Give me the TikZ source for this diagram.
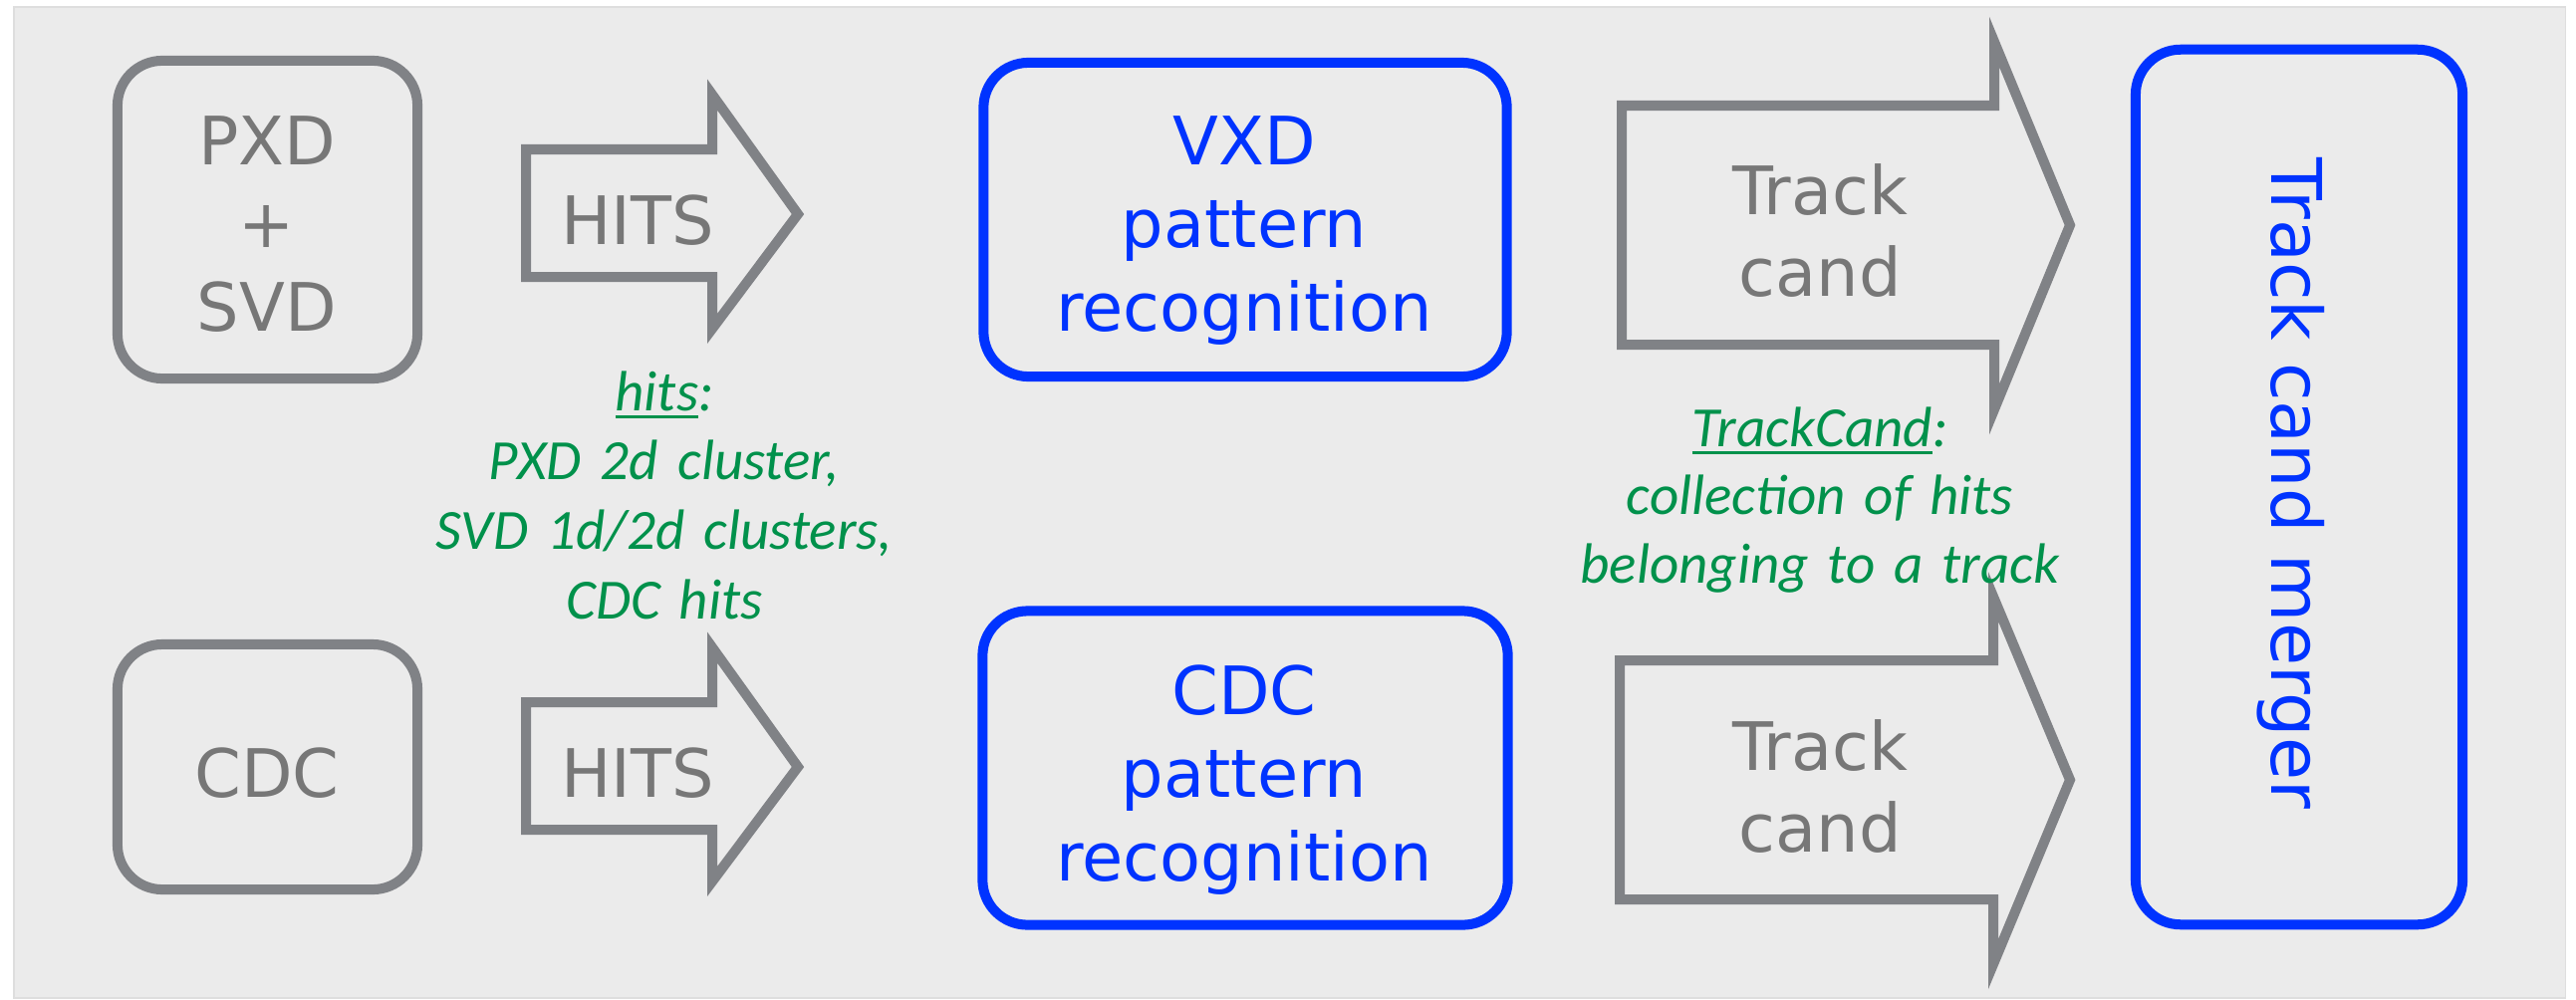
\documentclass[tikz,border=0pt]{standalone}
\usepackage{fontspec}
\setmainfont{DejaVu Sans}
\newfontfamily\carlito{Carlito}
\definecolor{bggray}{RGB}{235,235,235}
\definecolor{bgedge}{RGB}{222,222,222}
\definecolor{strokegray}{RGB}{128,130,134}
\definecolor{textgray}{RGB}{119,119,119}
\definecolor{myblue}{RGB}{0,51,255}
\definecolor{mygreen}{RGB}{0,145,75}
\newcommand\greenul[1]{\leavevmode\setbox0\hbox{#1}\rlap{\rule[-2.3pt]{\wd0}{1pt}}\box0}
\tikzset{
  box/.style={draw, rounded corners=0.45cm, line width=0.1cm, inner sep=0pt, fill=none},
  graybox/.style={box, draw=strokegray},
  bluebox/.style={box, draw=myblue},
  blockarrow/.style={draw=strokegray, line width=0.1cm, line join=miter},
  bigtext/.style={font=\fontsize{19.06}{23.76}\selectfont, text width=6cm, align=center, anchor=base, inner sep=0pt},
  graytext/.style={bigtext, text=textgray},
  bluetext/.style={bigtext, text=myblue},
  tracktext/.style={graytext, font=\fontsize{19.06}{23.33}\selectfont},
  note/.style={font=\carlito\itshape\fontsize{16.22}{19.9}\selectfont, text=mygreen, text width=6cm, align=center, anchor=base, inner sep=0pt}
}
\begin{document}
\begin{tikzpicture}[x=0.01cm, y=-0.01cm]
\useasboundingbox (0,0) rectangle (2586,1003);
\fill[white] (0,0) rectangle (2586,1003);
\draw[fill=bggray, draw=bgedge, line width=0.3pt] (14,7) rectangle (2575,1002);

% left detector boxes
\node[graybox, minimum width=3.01cm, minimum height=3.19cm] (pxd) at (268.5,220.5) {};
\node[graytext] (pxdtext) at (268,165) {PXD\\+\\SVD};
\node[graybox, minimum width=3.01cm, minimum height=2.46cm] (cdc) at (268.5,770) {};
\node[graytext] (cdctext) at (268,800) {CDC};

% HITS block arrows
\draw[blockarrow] (528,150) -- (715,150) -- (715,95) -- (801,215) -- (715,330) -- (715,278) -- (528,278) -- cycle;
\node[graytext] (hits1) at (640,245) {HITS};
\draw[blockarrow] (528,705) -- (715,705) -- (715,650) -- (801,770) -- (715,885) -- (715,833) -- (528,833) -- cycle;
\node[graytext] (hits2) at (640,800) {HITS};

% green note on hits
\node[note] (hitsnote) at (667,412) {\greenul{hits}:\\PXD 2d cluster,\\SVD 1d/2d clusters,\\CDC hits};

% pattern recognition boxes
\node[bluebox, minimum width=5.25cm, minimum height=3.15cm] (vxdpr) at (1250,220.5) {};
\node[bluetext] (vxdprtext) at (1249,165) {VXD\\pattern\\recognition};
\node[bluebox, minimum width=5.27cm, minimum height=3.15cm] (cdcpr) at (1250,771) {};
\node[bluetext] (cdcprtext) at (1249,717) {CDC\\pattern\\recognition};

% Track cand block arrows
\draw[blockarrow] (1628,106) -- (2002,106) -- (2002,42) -- (2078,226) -- (2002,411) -- (2002,346) -- (1628,346) -- cycle;
\node[tracktext] (tc1) at (1827,215) {Track\\cand};
\draw[blockarrow] (1626,663) -- (2001,663) -- (2001,599) -- (2078,783) -- (2001,968) -- (2001,903) -- (1626,903) -- cycle;
\node[tracktext] (tc2) at (1827,773) {Track\\cand};

% green note on TrackCand
\node[note, font=\carlito\itshape\fontsize{16.22}{19.5}\selectfont] (tcnote) at (1827,448) {\greenul{TrackCand}:\\collection of hits\\belonging to a track};

% merger box
\node[bluebox, minimum width=3.28cm, minimum height=8.78cm] (merger) at (2308,489) {};
\node[text=myblue, font=\fontsize{19.92}{24}\selectfont, rotate=-90, anchor=base, inner sep=0pt] (mergertext) at (2280,485.5) {Track cand merger};
\end{tikzpicture}
\end{document}
